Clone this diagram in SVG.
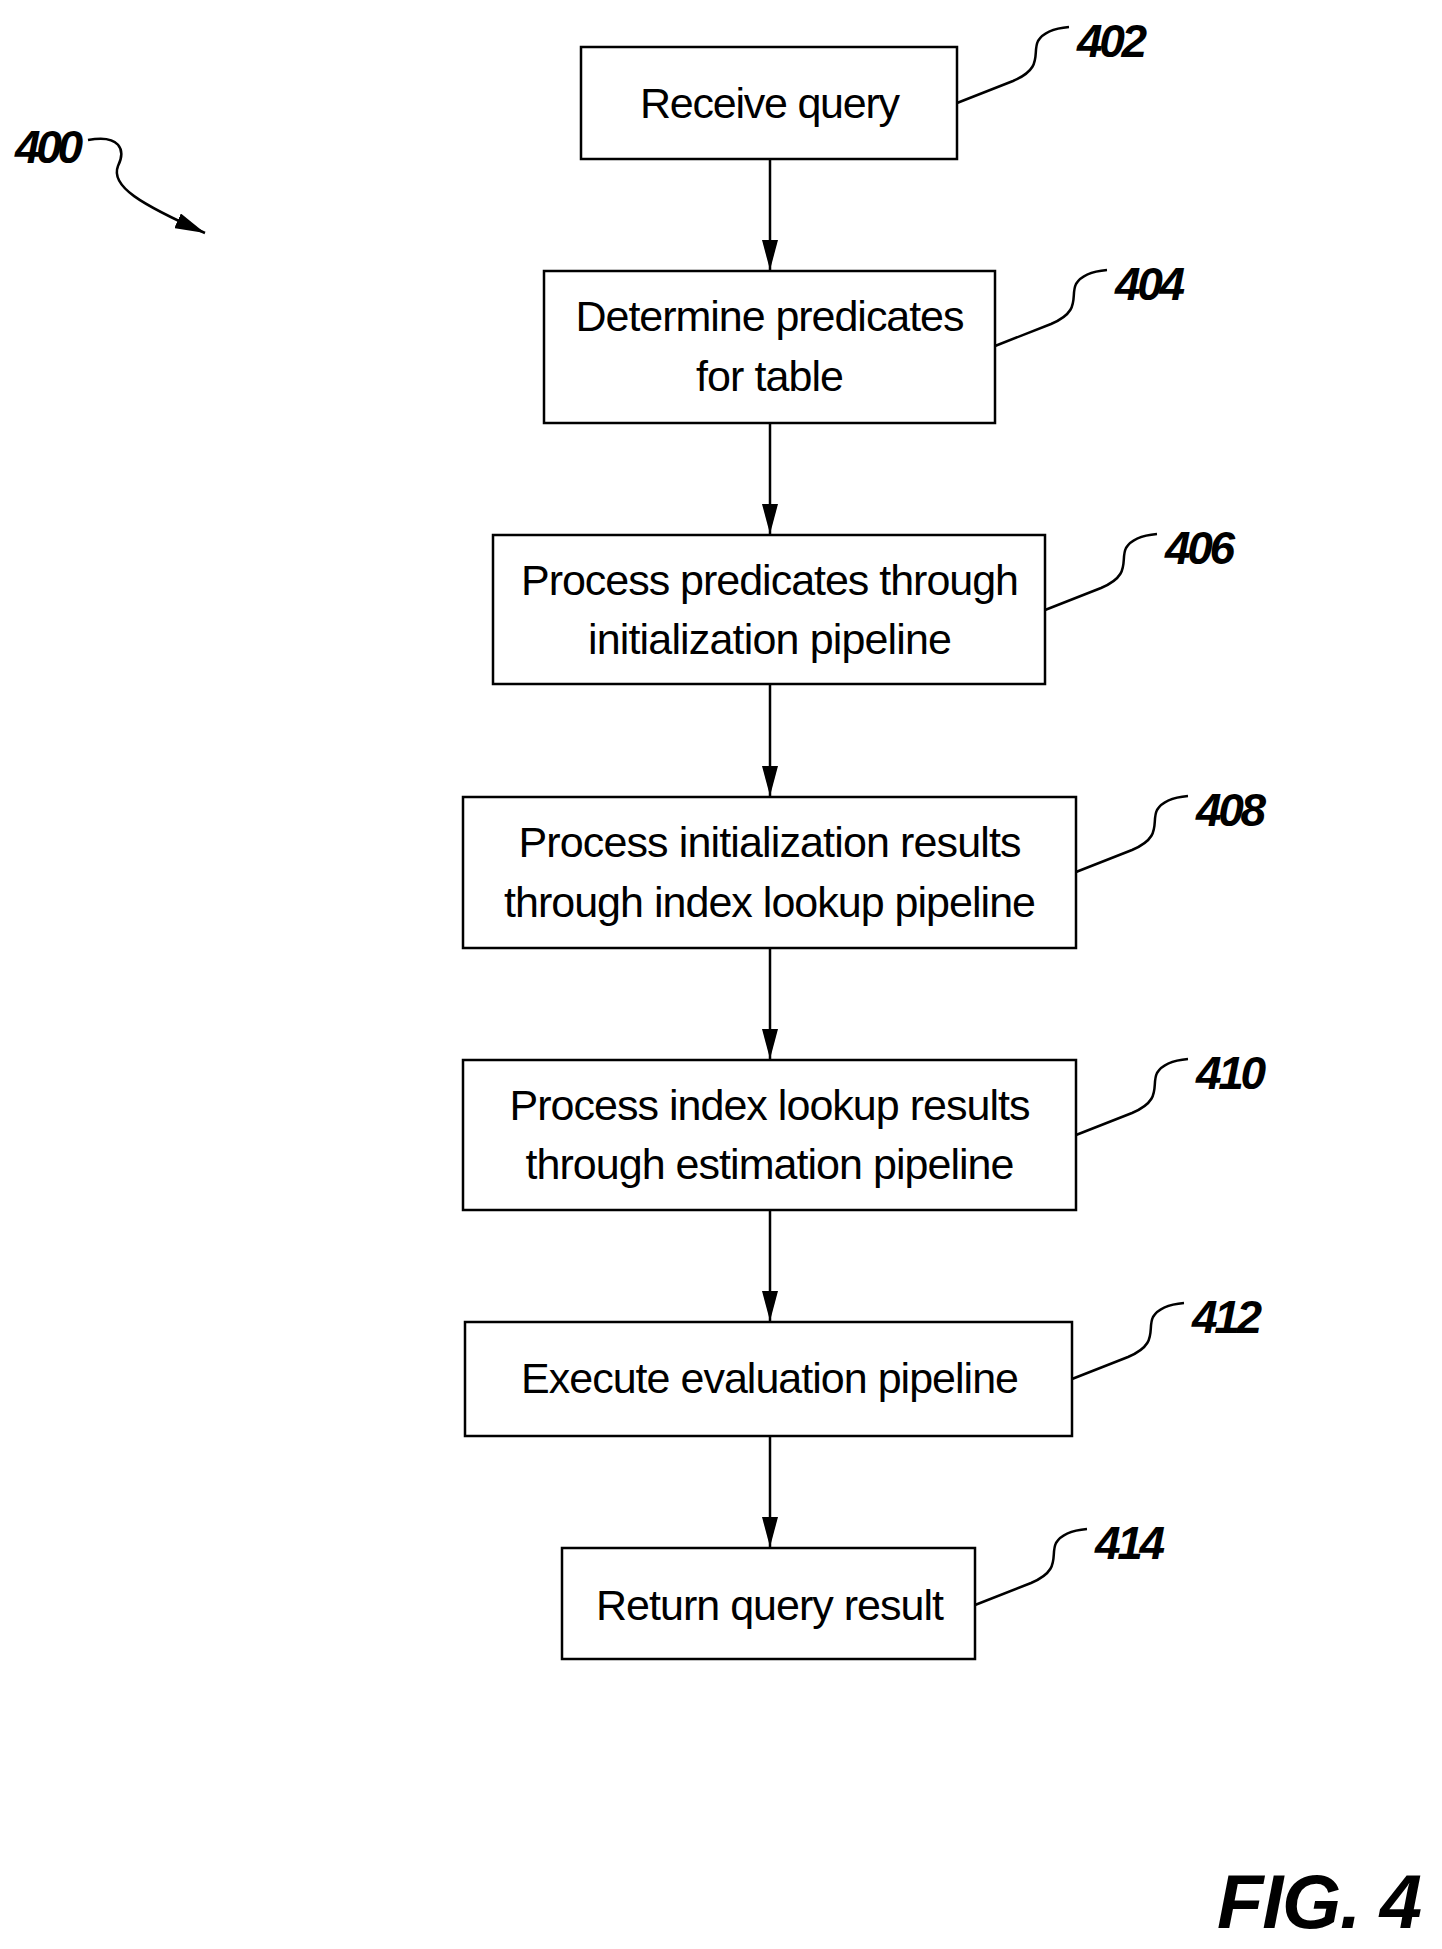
<svg xmlns="http://www.w3.org/2000/svg" width="1442" height="1949" viewBox="0 0 1442 1949">
<defs><marker id="ah" markerWidth="30" markerHeight="16" refX="30" refY="8" orient="auto" markerUnits="userSpaceOnUse"><path d="M0,0 L30,8 L0,16 Z" fill="#000"/></marker>
<style>
rect{fill:#fff;stroke:#000;stroke-width:2.5}
.t{font-family:"Liberation Sans",Arial,sans-serif;font-size:43px;text-anchor:middle}
.l{font-family:"Liberation Sans",Arial,sans-serif;font-size:46px;font-weight:bold;font-style:italic}
.c path{fill:none;stroke:#000;stroke-width:2.5}
</style></defs>
<rect x="0" y="0" width="1442" height="1949" style="fill:#fff;stroke:none"/>
<g class="c">
<path d="M770,159 V270" marker-end="url(#ah)"/>
<path d="M770,423 V534" marker-end="url(#ah)"/>
<path d="M770,684 V796" marker-end="url(#ah)"/>
<path d="M770,948 V1059" marker-end="url(#ah)"/>
<path d="M770,1210 V1321" marker-end="url(#ah)"/>
<path d="M770,1436 V1547" marker-end="url(#ah)"/>
<path d="M88,140 C120,134 126,150 118,166 C110,186 140,204 205,233" marker-end="url(#ah)"/>
<path d="M957,103 l56,-22 c31,-13 19,-28 25,-40 c6,-10 19,-13 31,-14"/>
<path d="M995,346 l56,-22 c31,-13 19,-28 25,-40 c6,-10 19,-13 31,-14"/>
<path d="M1045,610 l56,-22 c31,-13 19,-28 25,-40 c6,-10 19,-13 31,-14"/>
<path d="M1076,872 l56,-22 c31,-13 19,-28 25,-40 c6,-10 19,-13 31,-14"/>
<path d="M1076,1135 l56,-22 c31,-13 19,-28 25,-40 c6,-10 19,-13 31,-14"/>
<path d="M1072,1379 l56,-22 c31,-13 19,-28 25,-40 c6,-10 19,-13 31,-14"/>
<path d="M975,1605 l56,-22 c31,-13 19,-28 25,-40 c6,-10 19,-13 31,-14"/>
</g>
<g id="n402"><rect x="581" y="47" width="376" height="112"/><text class="t" x="770" y="118" textLength="260">Receive query</text><text class="l" x="1077" y="57" textLength="70">402</text></g>
<g id="n404"><rect x="544" y="271" width="451" height="152"/><text class="t" x="770" y="331" textLength="389">Determine predicates</text><text class="t" x="770" y="391" textLength="148">for table</text><text class="l" x="1115" y="300" textLength="70">404</text></g>
<g id="n406"><rect x="493" y="535" width="552" height="149"/><text class="t" x="770" y="595" textLength="498">Process predicates through</text><text class="t" x="770" y="654" textLength="364">initialization pipeline</text><text class="l" x="1165" y="564" textLength="70">406</text></g>
<g id="n408"><rect x="463" y="797" width="613" height="151"/><text class="t" x="770" y="857" textLength="503">Process initialization results</text><text class="t" x="770" y="917" textLength="532">through index lookup pipeline</text><text class="l" x="1196" y="826" textLength="70">408</text></g>
<g id="n410"><rect x="463" y="1060" width="613" height="150"/><text class="t" x="770" y="1120" textLength="521">Process index lookup results</text><text class="t" x="770" y="1179" textLength="489">through estimation pipeline</text><text class="l" x="1196" y="1089" textLength="70">410</text></g>
<g id="n412"><rect x="465" y="1322" width="607" height="114"/><text class="t" x="770" y="1393" textLength="498">Execute evaluation pipeline</text><text class="l" x="1192" y="1333" textLength="70">412</text></g>
<g id="n414"><rect x="562" y="1548" width="413" height="111"/><text class="t" x="770" y="1620" textLength="348">Return query result</text><text class="l" x="1095" y="1559" textLength="70">414</text></g>
<text class="l" x="15" y="163" textLength="68">400</text>
<text class="l" x="1217" y="1928" style="font-size:76px" textLength="205">FIG. 4</text>
</svg>
